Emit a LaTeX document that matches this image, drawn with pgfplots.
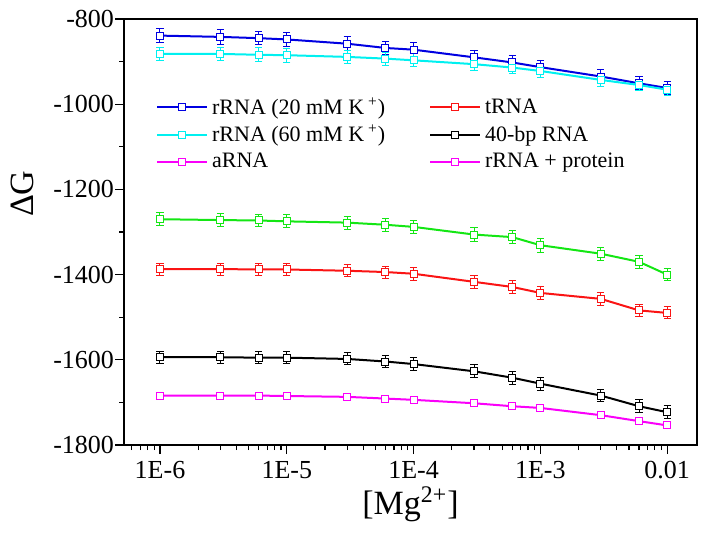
\documentclass[border=0pt]{standalone}
\usepackage{pgfplots}
\pgfplotsset{compat=1.18}
\usepackage{fontspec}
\setmainfont{Liberation Serif}

\definecolor{cblue}{RGB}{0,0,225}
\definecolor{ccyan}{RGB}{0,240,240}
\definecolor{cgreen}{RGB}{20,230,20}
\definecolor{cred}{RGB}{250,20,20}
\definecolor{cmag}{RGB}{250,0,250}

% x  dG  err
\pgfplotstableread{
x      y     e
1e-6  -839  17
3e-6  -842  17
6e-6  -845  16
1e-5  -848  16
3e-5  -858  16
6e-5  -868  16
1e-4  -872  16
3e-4  -890  16
6e-4  -902  16
1e-3  -913  16
3e-3  -935  16
6e-3  -951  15
1e-2  -962  15
}\rrnaA
\pgfplotstableread{
x      y     e
1e-6  -882  16
3e-6  -882  16
6e-6  -884  16
1e-5  -885  16
3e-5  -889  15
6e-5  -893  15
1e-4  -897  15
3e-4  -906  15
6e-4  -914  15
1e-3  -922  15
3e-3  -943  15
6e-3  -955  13
1e-2  -966  13
}\rrnaB
\pgfplotstableread{
x      y      e
1e-6  -1270  15
3e-6  -1272  15
6e-6  -1273  15
1e-5  -1275  15
3e-5  -1278  15
6e-5  -1283  15
1e-4  -1288  15
3e-4  -1306  16
6e-4  -1312  16
1e-3  -1331  16
3e-3  -1351  15
6e-3  -1370  15
1e-2  -1400  15
}\grn
\pgfplotstableread{
x      y      e
1e-6  -1387  14
3e-6  -1387  14
6e-6  -1388  14
1e-5  -1388  14
3e-5  -1391  14
6e-5  -1394  14
1e-4  -1398  15
3e-4  -1417  15
6e-4  -1429  15
1e-3  -1443  15
3e-3  -1457  15
6e-3  -1484  14
1e-2  -1490  14
}\trna
\pgfplotstableread{
x      y      e
1e-6  -1594  14
3e-6  -1594  14
6e-6  -1595  14
1e-5  -1595  14
3e-5  -1598  14
6e-5  -1604  14
1e-4  -1610  15
3e-4  -1627  15
6e-4  -1642  15
1e-3  -1656  15
3e-3  -1684  15
6e-3  -1709  15
1e-2  -1723  15
}\bp
\pgfplotstableread{
x      y      e
1e-6  -1684  5
3e-6  -1684  5
6e-6  -1684  5
1e-5  -1685  5
3e-5  -1687  5
6e-5  -1691  5
1e-4  -1694  5
3e-4  -1702  5
6e-4  -1709  5
1e-3  -1713  5
3e-3  -1730  6
6e-3  -1744  6
1e-2  -1754  6
}\prot

\begin{document}
\begin{tikzpicture}
\useasboundingbox (0,0) rectangle (355.5bp,267.5bp);
\begin{axis}[
    at={(62bp,45bp)}, anchor=south west,
    xmode=log,
    scale only axis,
    width=286.5bp, height=213bp,
    xmin=5.2e-7, xmax=1.72e-2,
    ymin=-1800, ymax=-800,
    xtick={1e-6,1e-5,1e-4,1e-3,1e-2},
    xticklabels={1E-6,1E-5,1E-4,1E-3,0.01},
    minor xtick={6e-7,7e-7,8e-7,9e-7,
        2e-6,3e-6,4e-6,5e-6,6e-6,7e-6,8e-6,9e-6,
        2e-5,3e-5,4e-5,5e-5,6e-5,7e-5,8e-5,9e-5,
        2e-4,3e-4,4e-4,5e-4,6e-4,7e-4,8e-4,9e-4,
        2e-3,3e-3,4e-3,5e-3,6e-3,7e-3,8e-3,9e-3},
    ytick={-1800,-1600,-1400,-1200,-1000,-800},
    minor y tick num=1,
    tick pos=left, tick align=outside,
    major tick length=4.5bp, minor tick length=2.5bp,
    every tick/.style={black, line width=0.6pt},
    axis line style={line width=0.7pt},
    /pgf/number format/assume math mode=true,
    yticklabel={\pgfmathprintnumber[fixed,1000 sep={}]{\tick}},
    tick label style={font=\fontsize{13bp}{15bp}\selectfont},
    yticklabel style={xshift=3bp},
    xlabel={[Mg\textsuperscript{2+}]},
    ylabel={ΔG},
    label style={font=\fontsize{17bp}{19bp}\selectfont},
    xlabel style={yshift=3bp},
    ylabel style={at={(axis description cs:-0.178,0.59)}, anchor=center},
    legend columns=2,
    legend style={draw=none, fill=none, at={(rel axis cs:0.045,0.835)}, anchor=north west,
        font=\fontsize{11bp}{13bp}\selectfont, row sep=0bp,
        /tikz/every even column/.append style={column sep=20bp}},
    legend cell align=left,
    legend image code/.code={\draw[mark repeat=2,mark phase=2] plot coordinates {(0bp,0bp)(12.5bp,0bp)(25bp,0bp)};},
    every axis plot/.append style={line width=1bp, mark=square*, mark size=1.75bp,
        mark options={fill=white, line width=0.5pt},
        error bars/y dir=both, error bars/y explicit,
        error bars/error bar style={line width=0.5pt},
        error bars/error mark options={rotate=90, mark size=1.8bp, line width=0.5pt}},
]
\addplot[cblue, forget plot] table[x=x, y=y, y error=e] {\rrnaA};
\addplot[ccyan, forget plot] table[x=x, y=y, y error=e] {\rrnaB};
\addplot[cgreen, forget plot] table[x=x, y=y, y error=e] {\grn};
\addplot[cred, forget plot] table[x=x, y=y, y error=e] {\trna};
\addplot[black, forget plot] table[x=x, y=y, y error=e] {\bp};
\addplot[cmag, forget plot] table[x=x, y=y, y error=e] {\prot};

\addlegendimage{cblue, line width=1bp, mark=square*, mark size=1.75bp, mark options={fill=white, line width=0.5pt}}
\addlegendentry{rRNA (20 mM K\textsuperscript{ +})}
\addlegendimage{cred, line width=1bp, mark=square*, mark size=1.75bp, mark options={fill=white, line width=0.5pt}}
\addlegendentry{tRNA}
\addlegendimage{ccyan, line width=1bp, mark=square*, mark size=1.75bp, mark options={fill=white, line width=0.5pt}}
\addlegendentry{rRNA (60 mM K\textsuperscript{ +})}
\addlegendimage{black, line width=1bp, mark=square*, mark size=1.75bp, mark options={fill=white, line width=0.5pt}}
\addlegendentry{40-bp RNA}
\addlegendimage{cmag, line width=1bp, mark=square*, mark size=1.75bp, mark options={fill=white, line width=0.5pt}}
\addlegendentry{aRNA}
\addlegendimage{cmag, line width=1bp, mark=square*, mark size=1.75bp, mark options={fill=white, line width=0.5pt}}
\addlegendentry{rRNA + protein}
\end{axis}
\end{tikzpicture}
\end{document}
